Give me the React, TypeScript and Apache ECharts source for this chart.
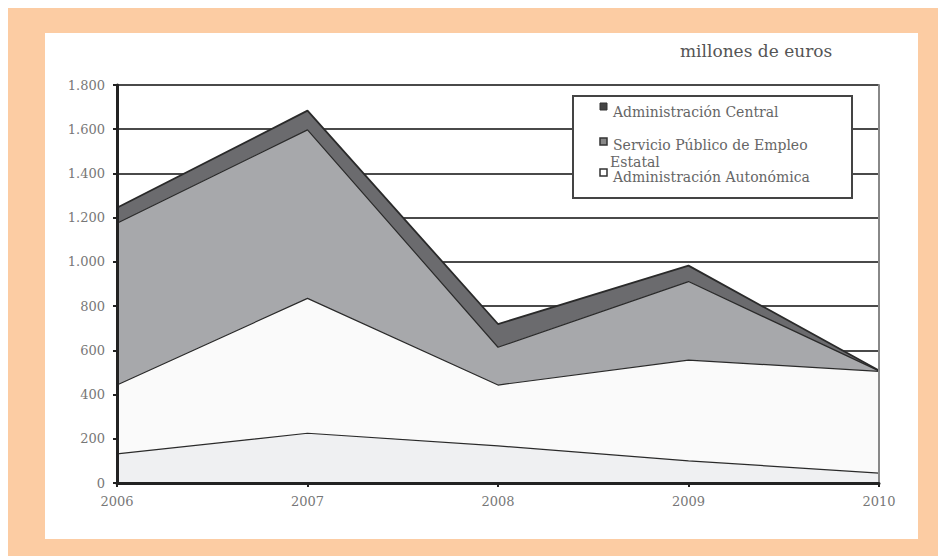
import React, { useEffect, useRef } from "react";
import * as echarts from "echarts";

const years = ["2006", "2007", "2008", "2009", "2010"];
const otrasValues = [132, 225, 168, 100, 45];
const autonomicaValues = [311, 610, 275, 456, 460];
const servicioValues = [732, 762, 171, 355, 2];
const centralValues = [70, 87, 105, 72, 2];
const legendLabels = ["Administración Central", "Servicio Público de Empleo", "Estatal", "Administración Autonómica"];
const unitLabel = "millones de euros";

const FONT = "DejaVu Serif";

function fmt(v: number): string {
  const s = String(Math.round(v));
  return s.replace(/\B(?=(\d{3})+(?!\d))/g, ".");
}

export default function App() {
  const ref = useRef<HTMLDivElement>(null);
  useEffect(() => {
    if (!ref.current) return;
    const chart = echarts.init(ref.current, null, { renderer: "svg" });
    const mk = (name: string, data: number[], color: string, lw = 1.2) => ({
      name,
      type: "line",
      stack: "total",
      yAxisIndex: 0,
      data,
      symbol: "none",
      lineStyle: { color: "#2a2a2a", width: lw },
      areaStyle: { color, opacity: 1 },
      itemStyle: { color },
      z: 3,
    });
    chart.setOption({
      animation: false,
      grid: { left: 109, top: 77, right: 67, bottom: 73 },
      xAxis: {
        type: "category",
        data: years,
        boundaryGap: false,
        axisLine: { lineStyle: { color: "#222", width: 3 } },
        axisTick: { show: true, length: 4, lineStyle: { color: "#222", width: 2 } },
        axisLabel: { color: "#777", fontFamily: FONT, fontSize: 13, margin: 12 },
        splitLine: { show: false },
        z: 5,
      },
      yAxis: [
        {
          type: "value",
          min: 0,
          max: 1800,
          interval: 200,
          position: "left",
          axisLine: { show: false },
          axisTick: { show: false },
          axisLabel: { show: false },
          splitLine: { show: true, lineStyle: { color: "#4a4a4a", width: 1.8 } },
          z: 1,
        },
        {
          type: "value",
          min: 0,
          max: 1800,
          interval: 200,
          position: "left",
          offset: 0,
          axisLine: { show: true, lineStyle: { color: "#222", width: 3 } },
          axisTick: { show: true, length: 4, lineStyle: { color: "#222", width: 2 } },
          axisLabel: { color: "#777", fontFamily: FONT, fontSize: 13, margin: 12, formatter: (v: number) => fmt(v) },
          splitLine: { show: false },
          z: 5,
        },
        {
          type: "value",
          min: 0,
          max: 1800,
          interval: 200,
          position: "right",
          offset: 0,
          axisLine: { show: true, lineStyle: { color: "#888", width: 2 } },
          axisTick: { show: false },
          axisLabel: { show: false },
          splitLine: { show: false },
          z: 4,
        },
      ],
      series: [
        mk("Otras", otrasValues, "#eff0f2"),
        mk("Administración Autonómica", autonomicaValues, "#fafafa"),
        mk("Servicio Público de Empleo Estatal", servicioValues, "#a7a8ab"),
        mk("Administración Central", centralValues, "#6b6b6e", 1.8),
      ],
      graphic: [
        {
          type: "text",
          left: 672,
          top: 34,
          style: { text: unitLabel, fill: "#555", font: `17px "${FONT}"` },
        },
        {
          type: "rect",
          shape: { x: 565, y: 88, width: 279, height: 102 },
          style: { fill: "#fff", stroke: "#444", lineWidth: 2 },
          z: 10,
        },
        { type: "rect", shape: { x: 592, y: 95, width: 7, height: 7 }, style: { fill: "#444", stroke: "#333", lineWidth: 1 }, z: 11 },
        { type: "rect", shape: { x: 592, y: 130, width: 7, height: 7 }, style: { fill: "#888", stroke: "#333", lineWidth: 1.5 }, z: 11 },
        { type: "rect", shape: { x: 592, y: 161, width: 7, height: 7 }, style: { fill: "#fff", stroke: "#333", lineWidth: 1.5 }, z: 11 },
        { type: "text", x: 605, y: 104, style: { text: legendLabels[0], fill: "#666", font: `14px "${FONT}"`, verticalAlign: "middle" }, z: 11 },
        { type: "text", x: 605, y: 137, style: { text: legendLabels[1], fill: "#666", font: `14px "${FONT}"`, verticalAlign: "middle" }, z: 11 },
        { type: "text", x: 602, y: 154, style: { text: legendLabels[2], fill: "#666", font: `14px "${FONT}"`, verticalAlign: "middle" }, z: 11 },
        { type: "text", x: 605, y: 169, style: { text: legendLabels[3], fill: "#666", font: `14px "${FONT}"`, verticalAlign: "middle" }, z: 11 },
      ],
    });
    return () => chart.dispose();
  }, []);

  return (
    <div style={{ position: "relative", width: 938, height: 548, background: "#fccca3" }}>
      <div style={{ position: "absolute", left: 37, top: 25, width: 873, height: 506, background: "#fff" }} />
      <div ref={ref} style={{ position: "absolute", left: 0, top: 0, width: 938, height: 548 }} />
    </div>
  );
}
